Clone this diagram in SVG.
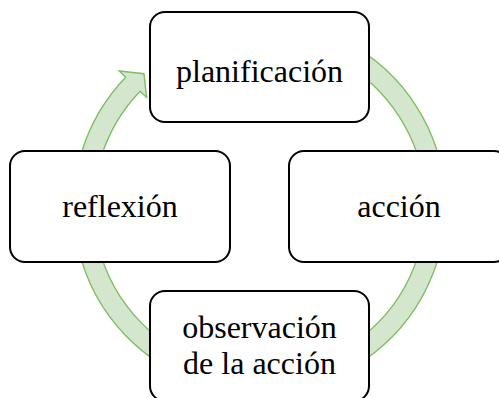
<svg xmlns="http://www.w3.org/2000/svg" width="499" height="398" viewBox="0 0 499 398">
<style>
.box{fill:#fff;stroke:#000;stroke-width:2}
.lbl{font-family:"Liberation Serif","Times New Roman",serif;font-size:32px;fill:#000;text-anchor:middle}
.ring{fill:#d5e6cf;stroke:#7fbf63;stroke-width:1.4;stroke-linejoin:miter}
</style>
<rect width="499" height="398" fill="#fff"/>
<g id="connectors">
<path class="ring" d="M166.5,45.4 A186,186 0 1 1 125.7,77.3 L119.2,71.0 L144,73.7 L146.6,97.4 L140.1,91.2 A166,166 0 1 0 176.5,62.7 Z"/>
</g>
<g id="planificacion">
<rect class="box" x="150" y="12" width="219" height="110" rx="15"/>
<text class="lbl" x="259.5" y="82">planificación</text>
</g>
<g id="accion">
<rect class="box" x="289" y="151" width="220" height="111" rx="15"/>
<text class="lbl" x="399" y="217">acción</text>
</g>
<g id="observacion">
<rect class="box" x="150" y="291" width="219" height="110" rx="15"/>
<text class="lbl" x="259.5" y="338">observación</text>
<text class="lbl" x="259.5" y="374">de la acción</text>
</g>
<g id="reflexion">
<rect class="box" x="10" y="151" width="220" height="111" rx="15"/>
<text class="lbl" x="120" y="217">reflexión</text>
</g>
</svg>
